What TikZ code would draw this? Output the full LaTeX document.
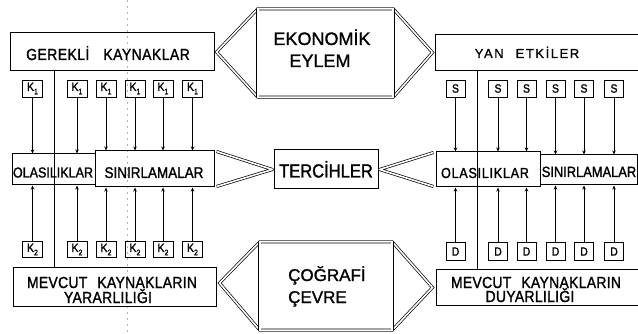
\documentclass[tikz,border=0pt]{standalone}
\usepackage{fontspec}
\setmainfont{Liberation Sans}[FakeBold=1.2]
\newfontfamily\cnd{Liberation Sans}[FakeStretch=0.87,FakeBold=1.4]
\usetikzlibrary{arrows.meta}
\newcommand{\fsz}[1]{\fontsize{#1}{#1}\selectfont}
\newcommand{\lsp}[1]{\addfontfeature{LetterSpace=#1}}
\newcommand{\subn}[1]{\raisebox{-0.28em}{\fontsize{8}{8}\selectfont #1}}
\begin{document}
\begin{tikzpicture}[x=1pt,y=-1pt,
  box/.style={draw, line width=1pt, rectangle, inner sep=0pt},
  hid/.style={rectangle, inner sep=0pt},
  sbox/.style={box, line width=0.9pt, minimum width=20pt, minimum height=17pt, font=\cnd\fsz{12}},
  lbl/.style={anchor=base, inner sep=0pt},
  dbl/.style={line width=0.7pt, double, double distance=1.6pt, line join=miter},
  dblr/.style={dbl, line join=round},
  arr/.style={line width=0.8pt, -{Stealth[length=4pt,width=3.5pt]}},
  link/.style={line width=0.8pt},
  fold/.style={gray!60, line width=0.5pt, dash pattern=on 2pt off 4pt}
]
\useasboundingbox (0,0) rectangle (638,334);
% scan fold
\coordinate (f1) at (127,0);
\coordinate (f2) at (127,334);
\draw[fold] (f1) -- (f2);

% main boxes
\node[box, minimum width=204pt, minimum height=38pt] (gk) at (112,52) {};
\node[box, minimum width=207pt, minimum height=36pt] (ye) at (538.5,52.5) {};
\node[box, minimum width=83pt, minimum height=31pt] (olL) at (53.5,169.5) {};
\node[box, minimum width=119pt, minimum height=36pt] (siL) at (154.5,169) {};
\node[box, minimum width=104pt, minimum height=35pt] (olR) at (488,169.5) {};
\node[box, minimum width=97pt, minimum height=30pt] (siR) at (588.5,170) {};
\node[box, minimum width=203pt, minimum height=38pt] (mkL) at (114.5,287) {};
\node[box, minimum width=204pt, minimum height=35pt] (mkR) at (538,287.5) {};
\node[box, minimum width=104pt, minimum height=39pt] (te) at (326,169.5) {};
\node[hid, minimum width=135pt, minimum height=88pt] (ek) at (325.5,53) {};
\node[hid, minimum width=132pt, minimum height=88pt] (cc) at (326,286) {};

% big double-line arrows
\draw[dbl] ([xshift=2pt]gk.east) -- (ek.north west) -- (ek.north east) -- ([xshift=-2pt]ye.west)
  -- (ek.south east) -- (ek.south west) -- cycle;
\draw[dbl] (ek.north west) -- (ek.south west);
\draw[dbl] (ek.north east) -- (ek.south east);
\draw[dbl] ([xshift=3pt,yshift=4pt]mkL.east) -- (cc.north west) -- (cc.north east) -- ([xshift=-3pt]mkR.west)
  -- (cc.south east) -- (cc.south west) -- cycle;
\draw[dbl] (cc.north west) -- (cc.south west);
\draw[dbl] (cc.north east) -- (cc.south east);
\draw[dblr] ([xshift=2pt,yshift=-1pt]siL.north east) -- ([xshift=-1pt]te.west) -- ([xshift=2pt,yshift=1pt]siL.south east);
\draw[dblr] ([xshift=-2pt,yshift=-1pt]olR.north west) -- ([xshift=1pt]te.east) -- ([xshift=-2pt,yshift=1pt]olR.south west);

% through lines
\coordinate (pl) at (54,0);
\coordinate (pr) at (477,0);
\draw[link] (pl |- gk.south) -- (pl |- mkL.north);
\draw[link] (pr |- ye.south) -- (pr |- mkR.north);

% K boxes (left)
\foreach \x [count=\i] in {32.5,77,106,135,163,192.5} {
  \node[sbox] (ka\i) at (\x,88.5) {K\subn{1}};
  \node[sbox, minimum height=16pt] (kb\i) at (\x,249.5) {K\subn{2}};
}
\foreach \i in {1,2} {
  \draw[arr] (ka\i.south) -- (ka\i.south |- olL.north);
  \draw[arr] (kb\i.north) -- (kb\i.north |- olL.south);
}
\foreach \i in {3,4,5,6} {
  \draw[arr] (ka\i.south) -- (ka\i.south |- siL.north);
  \draw[arr] (kb\i.north) -- (kb\i.north |- siL.south);
}

% S / D boxes (right)
\foreach \x [count=\i] in {455.5,498,526.5,555.5,584,614} {
  \node[sbox, minimum width=19pt] (sa\i) at (\x,88.5) {S};
  \node[sbox, minimum width=19pt, minimum height=18pt] (da\i) at (\x,251.5) {D};
}
\foreach \i in {1,2,3} {
  \draw[arr] (sa\i.south) -- (sa\i.south |- olR.north);
  \draw[arr] (da\i.north) -- (da\i.north |- olR.south);
}
\foreach \i in {4,5,6} {
  \draw[arr] (sa\i.south) -- (sa\i.south |- siR.north);
  \draw[arr] (da\i.north) -- (da\i.north |- siR.south);
}

% texts
\node[lbl, font=\cnd\fsz{16}\lsp{3}] (tg) at (108,60) {GEREKLİ\hspace{14pt}KAYNAKLAR};
\node[lbl, font=\fsz{18}] (te1) at (322,45) {EKONOMİK};
\node[lbl, font=\fsz{18}] (te2) at (320,67) {EYLEM};
\node[lbl, font=\fsz{13}\lsp{12}] (ty) at (527,58) {YAN\hspace{12pt}ETKİLER};
\node[lbl, font=\cnd\fsz{14.4}] (tol) at (53,177.5) {OLASILIKLAR};
\node[lbl, font=\cnd\fsz{15.5}] (tsl) at (154,178) {SINIRLAMALAR};
\node[lbl, font=\cnd\fsz{19}] (tt) at (326,177.5) {TERCİHLER};
\node[lbl, font=\cnd\fsz{14.5}\lsp{5}] (tor) at (485,178) {OLASILIKLAR};
\node[lbl, font=\cnd\fsz{14.8}] (tsr) at (589,177) {SINIRLAMALAR};
\node[lbl, font=\cnd\fsz{16}\lsp{2}] (tm1) at (112,288) {MEVCUT\hspace{10pt}KAYNAKLARIN};
\node[lbl, font=\cnd\fsz{16}\lsp{2}] (tm2) at (108,303) {YARARLILIĞI};
\node[lbl, anchor=base west, font=\fsz{17}] (tc1) at (288,281) {ÇOĞRAFİ};
\node[lbl, anchor=base west, font=\fsz{17}] (tc2) at (288,303) {ÇEVRE};
\node[lbl, font=\cnd\fsz{16}\lsp{2}] (tn1) at (536,288) {MEVCUT\hspace{10pt}KAYNAKLARIN};
\node[lbl, font=\cnd\fsz{16}\lsp{2}] (tn2) at (530,302) {DUYARLILIĞI};
\end{tikzpicture}
\end{document}
